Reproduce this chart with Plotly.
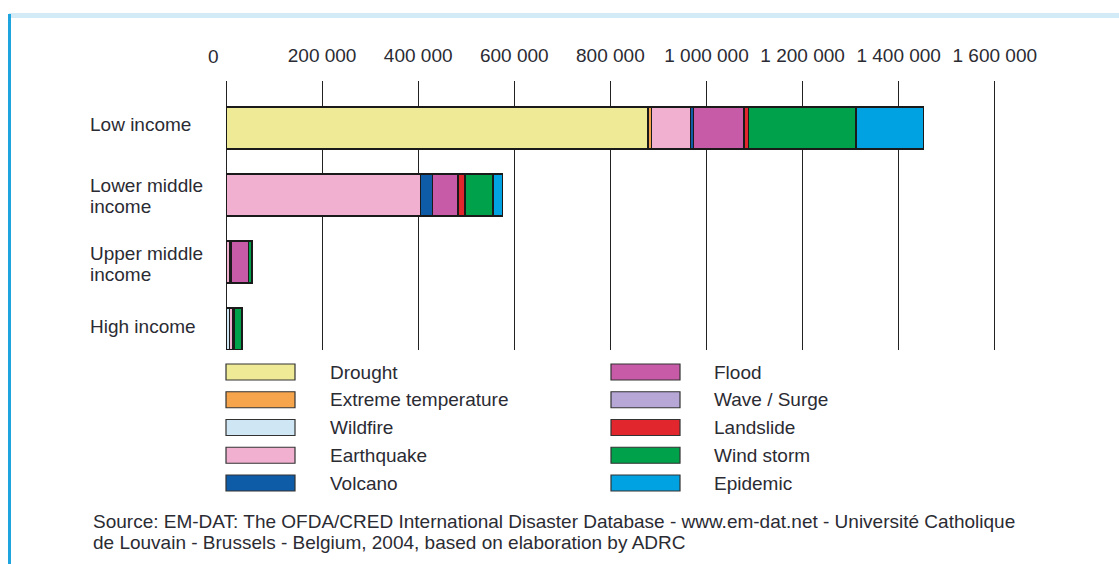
import plotly.graph_objects as go

categories = ["High income", "Upper middle<br>income", "Lower middle<br>income", "Low income"]
hazards = ["Drought", "Extreme temperature", "Wildfire", "Earthquake", "Volcano",
           "Flood", "Wave / Surge", "Landslide", "Wind storm", "Epidemic"]
colors = ["#eeea96", "#f6a54c", "#cfe7f5", "#f1b0d0", "#0e5ba8",
          "#c85ba8", "#b6a7d6", "#e2262d", "#00a14b", "#00a2e2"]
# values per hazard, ordered as categories (High, Upper middle, Lower middle, Low)
values = {
    "Drought":             [0,      0,      0,      878000],
    "Extreme temperature": [0,      0,      0,      8000],
    "Wildfire":            [7000,   0,      0,      0],
    "Earthquake":          [6000,   8000,   405000, 81000],
    "Volcano":             [0,      2000,   25000,  6000],
    "Flood":               [4000,   37000,  53000,  105000],
    "Wave / Surge":        [0,      0,      0,      0],
    "Landslide":           [0,      0,      14000,  9000],
    "Wind storm":          [16000,  7000,   59000,  224000],
    "Epidemic":            [0,      1000,   19500,  141000],
}
tick_vals = [0, 200000, 400000, 600000, 800000, 1000000, 1200000, 1400000, 1600000]
tick_text = ["", "200 000", "400 000", "600 000", "800 000", "1 000 000",
             "1 200 000", "1 400 000", "1 600 000"]
source_lines = ["Source: EM-DAT: The OFDA/CRED International Disaster Database - www.em-dat.net - Université Catholique",
                "de Louvain - Brussels - Belgium, 2004, based on elaboration by ADRC"]

FONT = "Liberation Sans, Arial, sans-serif"
TXT = "#2b2b33"
W, H = 1119, 564
L, R, T, B = 226, 105, 81, 214
PW, PH = W - L - R, H - T - B

def px(x):
    return (x - L) / PW

def py(y):
    return (H - B - y) / PH

fig = go.Figure()
for name, col in zip(hazards, colors):
    fig.add_trace(go.Bar(
        y=categories, x=values[name], name=name, orientation="h",
        marker=dict(color=col, line=dict(color="#1a1a1a", width=1.5)),
        showlegend=False,
    ))

shapes = []
annotations = []
# legend (two columns of five)
for i, (name, col) in enumerate(zip(hazards, colors)):
    c, r = divmod(i, 5)
    sx = 226 if c == 0 else 611
    tx = 328 if c == 0 else 712
    cy = 372 + r * 27.75
    shapes.append(dict(type="rect", xref="paper", yref="paper",
                       x0=px(sx), x1=px(sx + 69), y0=py(cy - 8), y1=py(cy + 8),
                       fillcolor=col, line=dict(color="#333333", width=1.2)))
    annotations.append(dict(text=name, xref="paper", yref="paper", x=px(tx), y=py(cy),
                            xanchor="left", yanchor="middle", showarrow=False,
                            font=dict(size=19, color=TXT, family=FONT)))

# category labels, left aligned, tight line spacing
for cat in categories:
    lines = cat.split("<br>")
    n = len(lines)
    base = 3 if n == 1 else -1.5
    for j, ln in enumerate(lines):
        shift = base + (j - (n - 1) / 2) * -21
        annotations.append(dict(text=ln, xref="paper", yref="y", x=px(88), y=cat,
                                yshift=shift, xanchor="left", yanchor="middle",
                                showarrow=False,
                                font=dict(size=19, color=TXT, family=FONT)))

# "0" tick label (sits left of the zero line in the reference)
annotations.append(dict(text="0", xref="paper", yref="paper", x=px(213), y=py(57),
                        xanchor="center", yanchor="middle", showarrow=False,
                        font=dict(size=19, color=TXT, family=FONT)))

# source
for k, line in enumerate(source_lines):
    annotations.append(dict(text=line, xref="paper", yref="paper", x=px(91), y=py(521 + k * 21),
                            xanchor="left", yanchor="middle", showarrow=False,
                            font=dict(size=19, color=TXT, family=FONT)))

# frame decorations
shapes.append(dict(type="rect", xref="paper", yref="paper", x0=px(9), x1=px(1119),
                   y0=py(18), y1=py(13), fillcolor="#d3eaf7", line=dict(width=0), layer="below"))
shapes.append(dict(type="line", xref="paper", yref="paper", x0=px(9.5), x1=px(9.5),
                   y0=py(14), y1=py(564), line=dict(color="#1ea5e0", width=3)))

fig.update_layout(
    width=W, height=H,
    margin=dict(l=L, r=R, t=T, b=B, pad=0),
    paper_bgcolor="white", plot_bgcolor="white",
    barmode="stack", bargap=0.37,
    font=dict(family=FONT, color=TXT),
    xaxis=dict(range=[0, 1640000], side="top", tickvals=tick_vals, ticktext=tick_text,
               showgrid=True, gridcolor="#222222", gridwidth=1.2,
               zeroline=True, zerolinecolor="#222222", zerolinewidth=1.2,
               showline=False, ticks="", ticklabelstandoff=14,
               tickfont=dict(size=19, color=TXT, family=FONT), fixedrange=True),
    yaxis=dict(categoryorder="array", categoryarray=categories, range=[-0.313, 3.701],
               showticklabels=False, showgrid=False, zeroline=False, showline=False,
               ticks="", fixedrange=True),
    shapes=shapes, annotations=annotations,
)

fig.write_html("out.html")
